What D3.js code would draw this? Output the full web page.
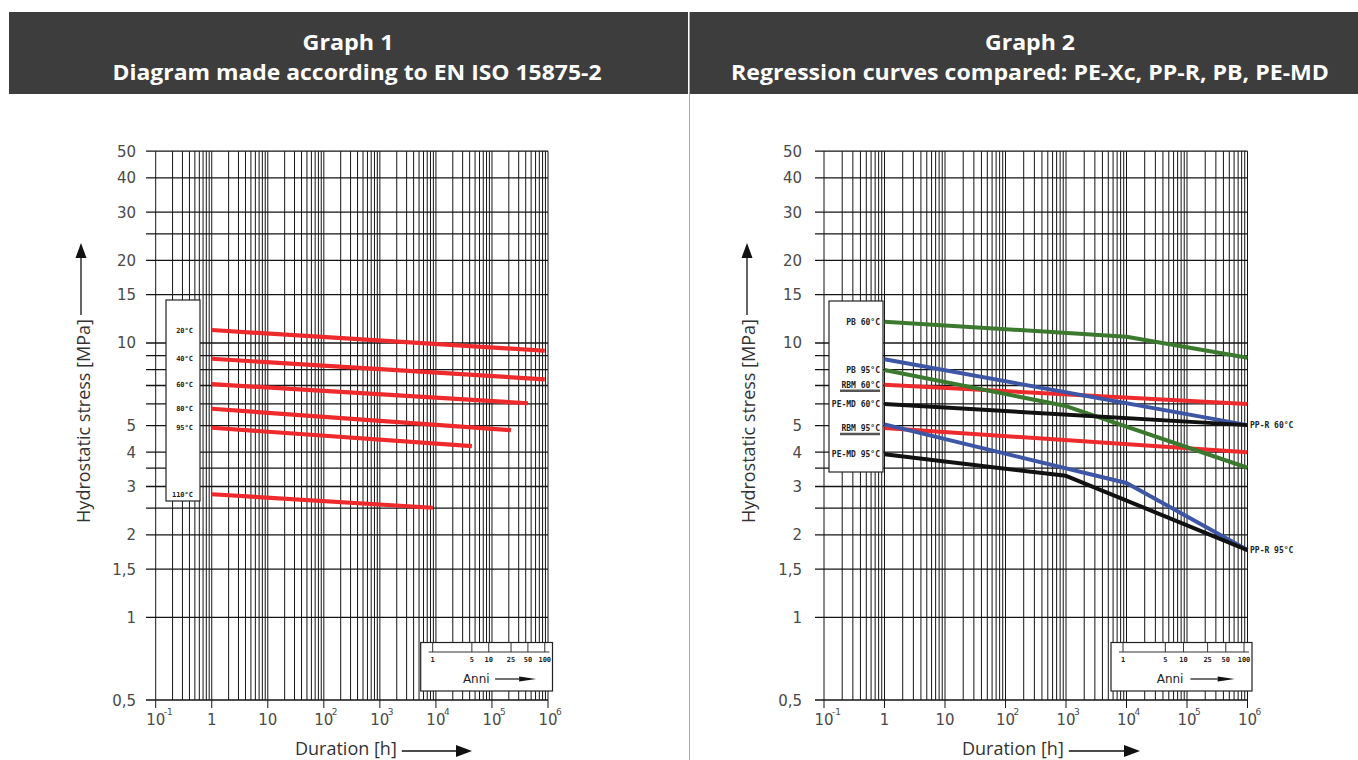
<!DOCTYPE html>
<html>
<head>
<meta charset="utf-8">
<script src="https://cdn.jsdelivr.net/npm/d3@7"></script>
<style>
  body { margin: 0; background: #fff; }
  svg { display: block; }
</style>
</head>
<body>
<svg id="chart" width="1358" height="760"></svg>
<script>
// ---- data ----
const yTicks = [50, 40, 30, 20, 15, 10, 5, 4, 3, 2, 1.5, 1, 0.5];
const yTickLabels = ["50", "40", "30", "20", "15", "10", "5", "4", "3", "2", "1,5", "1", "0,5"];
const yGrid = [50, 40, 30, 25, 20, 15, 10, 9, 8, 7, 6, 5, 4, 3.5, 3, 2.5, 2, 1.5, 1, 0.5];
const xDecades = [-1, 0, 1, 2, 3, 4, 5, 6];
const yearTicks = [1, 5, 10, 25, 50, 100];
const hoursPerYear = 8760;

// Graph 1 - EN ISO 15875-2 (hours, MPa)
const g1Labels = ["20°C", "40°C", "60°C", "80°C", "95°C", "110°C"];
const g1Hours = [[1, 876000], [1, 876000], [1, 438000], [1, 219000], [1, 43800], [1, 8760]];
const g1Stress = [[11.15, 9.37], [8.76, 7.37], [7.08, 6.03], [5.76, 4.81], [4.91, 4.21], [2.81, 2.51]];

// Graph 2 - regression curves compared (hours, MPa)
const g2Labels = ["RBM 60°C", "RBM 95°C", "PB 60°C", "PB 95°C", "PP-R 60°C", "PP-R 95°C", "PE-MD 60°C", "PE-MD 95°C"];
const g2Material = ["RBM", "RBM", "PB", "PB", "PP-R", "PP-R", "PE-MD", "PE-MD"];
const g2Hours = [[1, 1e6], [1, 1e6], [1, 1e4, 1e6], [1, 1e3, 1e6], [1, 1e6], [1, 1e4, 1e6], [1, 1e6], [1, 1e3, 1e6]];
const g2Stress = [[7.05, 5.99], [4.90, 4.00], [11.96, 10.54, 8.84], [7.97, 5.89, 3.51], [8.72, 5.02], [5.05, 3.09, 1.76], [5.99, 5.02], [3.93, 3.28, 1.76]];

const materialColor = { "RBM": "#ee2a2c", "PB": "#3b7a2e", "PP-R": "#3d56a6", "PE-MD": "#111" };

const svg = d3.select("#chart");
const headFont = "'Open Sans', 'Noto Sans', sans-serif";
const cadFont = "'DejaVu Sans', sans-serif";
const monoFont = "'DejaVu Sans Mono', monospace";

// divider between the two panels
svg.append("line").attr("x1", 689.5).attr("x2", 689.5).attr("y1", 12).attr("y2", 760)
  .attr("stroke", "#a8a8a8").attr("stroke-width", 1);

function arrow(g, x1, y1, x2, y2, headLen, headW, sw) {
  const a = Math.atan2(y2 - y1, x2 - x1);
  const bx = x2 - headLen * Math.cos(a), by = y2 - headLen * Math.sin(a);
  g.append("line").attr("x1", x1).attr("y1", y1).attr("x2", bx).attr("y2", by)
    .attr("stroke", "#111").attr("stroke-width", sw || 1.2);
  const px = Math.sin(a) * headW / 2, py = -Math.cos(a) * headW / 2;
  g.append("path")
    .attr("d", `M${x2},${y2}L${bx + px},${by + py}L${bx - px},${by - py}Z`)
    .attr("fill", "#111");
}

function drawPanel(p) {
  const g = svg.append("g");

  // header
  g.append("rect").attr("x", p.header[0]).attr("y", 12)
    .attr("width", p.header[1] - p.header[0]).attr("height", 82).attr("fill", "#3d3d3d");
  g.append("text").attr("x", p.titleCx[0]).attr("y", 50).attr("text-anchor", "middle")
    .attr("font-family", headFont).attr("font-weight", 700).attr("font-size", 21)
    .attr("textLength", p.titleW[0]).attr("lengthAdjust", "spacingAndGlyphs")
    .attr("fill", "#fff").text(p.title1);
  g.append("text").attr("x", p.titleCx[1]).attr("y", 80).attr("text-anchor", "middle")
    .attr("font-family", headFont).attr("font-weight", 700).attr("font-size", 21)
    .attr("textLength", p.titleW[1]).attr("lengthAdjust", "spacingAndGlyphs")
    .attr("fill", "#fff").text(p.title2);

  const x = d3.scaleLog().domain([0.1, 1e6]).range([p.xa, p.xb]);
  const y = d3.scaleLog().domain([0.5, 50]).range([700, 151.2]);
  const isDecade = d => Math.abs(Math.log10(d) - Math.round(Math.log10(d))) < 1e-9;

  // vertical grid (1..9 per decade), decades run a little below the frame
  g.append("g").selectAll("line").data(x.ticks()).join("line")
    .attr("x1", d => x(d)).attr("x2", d => x(d))
    .attr("y1", y(50))
    .attr("y2", d => isDecade(d) ? 708 : y(0.5))
    .attr("stroke", "#151515").attr("stroke-width", 1);

  // horizontal grid
  g.append("g").selectAll("line").data(yGrid).join("line")
    .attr("x1", p.gridLeft).attr("x2", x(1e6))
    .attr("y1", d => y(d)).attr("y2", d => y(d))
    .attr("stroke", "#151515").attr("stroke-width", 1.3);

  // y tick labels
  g.append("g").selectAll("text").data(yTicks).join("text")
    .attr("x", p.yLabelRight).attr("y", d => y(d) + 5.5)
    .attr("text-anchor", "end").attr("font-family", cadFont).attr("font-size", 15)
    .attr("fill", "#4a4a4a").text((d, i) => yTickLabels[i]);

  // x tick labels
  const xl = g.append("g").attr("font-family", cadFont).attr("fill", "#4a4a4a");
  xDecades.forEach(e => {
    const cx = x(Math.pow(10, e));
    const base = e === 0 ? "1" : "10";
    xl.append("text").attr("x", cx).attr("y", 725).attr("text-anchor", "middle")
      .attr("font-size", 15).text(base);
    if (e !== 0 && e !== 1) {
      xl.append("text").attr("x", cx + 8).attr("y", 715).attr("font-size", 9).text(String(e));
    }
  });

  // axis titles
  g.append("text").attr("transform", `translate(${p.yTitleX},421) rotate(-90)`)
    .attr("text-anchor", "middle").attr("dominant-baseline", "central")
    .attr("font-family", headFont).attr("font-size", 18).attr("fill", "#333")
    .text("Hydrostatic stress [MPa]");
  arrow(g, p.yArrowX, 315, p.yArrowX, 243, 15, 11, 1.3);

  const dur = g.append("text").attr("x", p.durX).attr("y", 755)
    .attr("font-family", headFont).attr("font-size", 18).attr("fill", "#333")
    .text("Duration [h]");
  const dw = dur.node().getComputedTextLength();
  arrow(g, p.durX + dw + 5, 751, p.durArrowEnd, 751, 16, 12, 1.3);

  // legend box
  g.append("rect").attr("x", p.legend[0]).attr("y", p.legend[2])
    .attr("width", p.legend[1] - p.legend[0]).attr("height", p.legend[3] - p.legend[2])
    .attr("fill", "#fff").attr("stroke", "#222").attr("stroke-width", 1.2);

  // "Anni" box with the years scale
  const ax0 = x(hoursPerYear) - 12, ax1 = x(1e6) + 4.5;
  const an = g.append("g");
  an.append("rect").attr("x", ax0).attr("y", 642.5).attr("width", ax1 - ax0).attr("height", 48.5)
    .attr("fill", "#fff").attr("stroke", "#222").attr("stroke-width", 1.2);
  an.append("line").attr("x1", ax0 + 8).attr("x2", ax1 - 3).attr("y1", 652).attr("y2", 652)
    .attr("stroke", "#333").attr("stroke-width", 1);
  an.selectAll(".yt").data(yearTicks).join("line").attr("class", "yt")
    .attr("x1", d => x(d * hoursPerYear)).attr("x2", d => x(d * hoursPerYear))
    .attr("y1", 642.5).attr("y2", 652).attr("stroke", "#333").attr("stroke-width", 1);
  an.selectAll(".yl").data(yearTicks).join("text").attr("class", "yl")
    .attr("x", d => x(d * hoursPerYear)).attr("y", 662).attr("text-anchor", "middle")
    .attr("font-family", monoFont).attr("font-size", 7).attr("font-weight", "bold")
    .attr("fill", "#222").text(d => d);
  an.append("text").attr("x", x(6 * hoursPerYear)).attr("y", 682.5).attr("text-anchor", "middle")
    .attr("font-family", cadFont).attr("font-size", 12).attr("fill", "#222").text("Anni");
  arrow(an, x(13 * hoursPerYear), 679, x(70 * hoursPerYear), 679, 17, 5, 1.2);

  return { g, x, y };
}

// ---- Graph 1 ----
const p1 = drawPanel({
  header: [9, 688], titleCx: [348, 357], titleW: [91, 489],
  title1: "Graph 1", title2: "Diagram made according to EN ISO 15875-2",
  xa: 155.7, xb: 548, gridLeft: 146, yLabelRight: 136,
  legend: [166, 200, 300, 501], yTitleX: 83, yArrowX: 81, durX: 295, durArrowEnd: 472
});

const line1 = d3.line().x(d => p1.x(d[0])).y(d => p1.y(d[1]));
p1.g.append("g").selectAll("path").data(g1Labels).join("path")
  .attr("d", (d, i) => line1(d3.zip(g1Hours[i], g1Stress[i])))
  .attr("fill", "none").attr("stroke", "#ee2a2c").attr("stroke-width", 4.2);
p1.g.append("g").selectAll("text").data(g1Labels).join("text")
  .attr("x", 193).attr("y", (d, i) => p1.y(g1Stress[i][0]) + 2.5)
  .attr("text-anchor", "end").attr("font-family", monoFont).attr("font-weight", "bold")
  .attr("font-size", 7).attr("fill", "#222").text(d => d);

// ---- Graph 2 ----
const p2 = drawPanel({
  header: [690, 1358], titleCx: [1030, 1030], titleW: [90, 598],
  title1: "Graph 2", title2: "Regression curves compared: PE-Xc, PP-R, PB, PE-MD",
  xa: 824, xb: 1247.5, gridLeft: 815, yLabelRight: 802,
  legend: [829, 883, 301, 472], yTitleX: 748, yArrowX: 747, durX: 962, durArrowEnd: 1140
});

const line2 = d3.line().x(d => p2.x(d[0])).y(d => p2.y(d[1]));
const drawOrder = ["RBM", "PB", "PP-R", "PE-MD"];
const idx = d3.range(g2Labels.length).sort((a, b) => drawOrder.indexOf(g2Material[a]) - drawOrder.indexOf(g2Material[b]));
p2.g.append("g").selectAll("path").data(idx).join("path")
  .attr("d", i => line2(d3.zip(g2Hours[i], g2Stress[i])))
  .attr("fill", "none").attr("stroke", i => materialColor[g2Material[i]])
  .attr("stroke-width", 4).attr("stroke-linejoin", "round");

// labels: PP-R at the right end, the others inside the legend box
const lab = p2.g.append("g").attr("font-family", monoFont).attr("font-weight", "bold")
  .attr("font-size", 8).attr("fill", "#222");
g2Labels.forEach((name, i) => {
  if (g2Material[i] === "PP-R") {
    const last = g2Stress[i].length - 1;
    lab.append("text").attr("x", 1250).attr("y", p2.y(g2Stress[i][last]) + 3).text(name);
  } else {
    const yy = p2.y(g2Stress[i][0]);
    lab.append("text").attr("x", 880).attr("y", yy + 3).attr("text-anchor", "end").text(name);
    if (g2Material[i] === "RBM") {
      p2.g.append("line").attr("x1", 840).attr("x2", 880).attr("y1", yy + 6).attr("y2", yy + 6)
        .attr("stroke", "#555").attr("stroke-width", 2.5);
    }
  }
});
</script>
</body>
</html>
